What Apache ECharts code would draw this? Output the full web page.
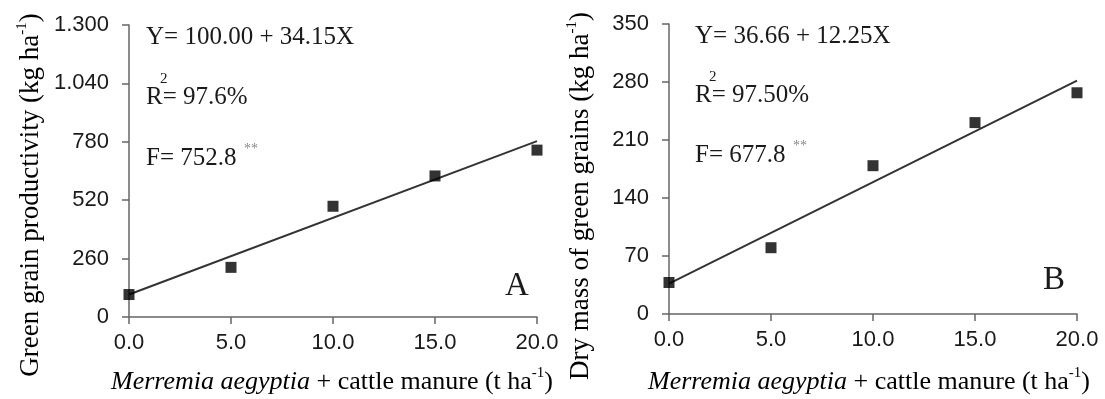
<!DOCTYPE html>
<html>
<head>
<meta charset="utf-8">
<script src="https://cdn.jsdelivr.net/npm/echarts@6/dist/echarts.min.js"></script>
<style>
  html, body { margin: 0; padding: 0; background: #fff; }
  #main { width: 1105px; height: 399px; }
</style>
</head>
<body>
<div id="main"></div>
<script>
// doses of Merremia aegyptia + cattle manure (t/ha)
var doses = [0, 5, 10, 15, 20];
// panel A: green grain productivity (kg/ha)
var grainProd = [100, 221, 493, 628, 743];
// panel B: dry mass of green grains (kg/ha)
var grainDryMass = [38, 80, 179, 231, 267];
// fitted equations [intercept, slope] as printed on the chart
var fitA = [100.00, 34.15];
var fitB = [36.66, 12.25];
var yAxisA = { max: 1300, step: 260 };
var yAxisB = { max: 350, step: 70 };

var serif = 'Liberation Serif';
var sans = 'Liberation Sans';
var ink = '#1a1a1a';
var axisGray = '#666';

function pairs(xs, ys) {
  return xs.map(function (x, i) { return [x, ys[i]]; });
}
function fitLine(coef) {
  var x0 = doses[0], x1 = doses[doses.length - 1];
  return [[x0, coef[0] + coef[1] * x0], [x1, coef[0] + coef[1] * x1]];
}
function thousands(v) {
  return v >= 1000 ? (v / 1000).toFixed(3) : String(v);
}

function xAxisFor(gi) {
  return {
    type: 'value', gridIndex: gi, min: 0, max: 20, interval: 5,
    axisLine: { show: true, lineStyle: { color: axisGray, width: 1.5 } },
    axisTick: { show: true, length: 7, lineStyle: { color: axisGray, width: 1.5 } },
    axisLabel: { fontSize: 22, fontFamily: sans, color: ink, margin: 15,
      formatter: function (v) { return v.toFixed(1); } },
    splitLine: { show: false }
  };
}
function yAxisFor(gi, cfg, fmt) {
  return {
    type: 'value', gridIndex: gi, min: 0, max: cfg.max, interval: cfg.step,
    axisLine: { show: true, lineStyle: { color: axisGray, width: 1.5 } },
    axisTick: { show: true, length: 7, lineStyle: { color: axisGray, width: 1.5 } },
    axisLabel: { fontSize: 22, fontFamily: sans, color: ink, margin: 20, formatter: fmt },
    splitLine: { show: false }
  };
}

var titleRich = {
  t: { fontSize: 26, fontFamily: serif, color: ink, lineHeight: 32 },
  i: { fontSize: 26, fontFamily: serif, fontStyle: 'italic', color: ink, lineHeight: 32 },
  s: { fontSize: 15, fontFamily: serif, color: ink, verticalAlign: 'top', lineHeight: 15 }
};
var yTitleRich = {
  t: { fontSize: 27, fontFamily: serif, color: ink, lineHeight: 32 },
  s: { fontSize: 15, fontFamily: serif, color: ink, verticalAlign: 'top', lineHeight: 15 }
};
function txt(x, y, text, size, extra) {
  var st = { text: text, fontSize: size, fontFamily: serif, fill: ink, align: 'left', verticalAlign: 'middle' };
  for (var k in extra) st[k] = extra[k];
  return { type: 'text', x: x, y: y, style: st, z: 10 };
}
function annotations(left, lines) {
  return [
    txt(left, lines[0], lines[3], 25),
    txt(left, lines[1], 'R= ' + lines[4], 25),
    txt(left + 14, lines[1] - 18, '2', 15),
    txt(left, lines[2], 'F= ' + lines[5], 25),
    txt(left + lines[6], lines[2] - 9, '**', 14, { fill: '#888' })
  ];
}

var myChart = echarts.init(document.getElementById('main'));
var option = {
  backgroundColor: '#fff',
  animation: false,
  grid: [
    { left: 129, top: 25, width: 408, height: 292 },
    { left: 669, top: 24, width: 408, height: 290 }
  ],
  xAxis: [xAxisFor(0), xAxisFor(1)],
  yAxis: [yAxisFor(0, yAxisA, thousands), yAxisFor(1, yAxisB, function (v) { return String(v); })],
  series: [
    { type: 'line', xAxisIndex: 0, yAxisIndex: 0, data: fitLine(fitA), symbol: 'none',
      lineStyle: { color: '#333', width: 2 }, z: 2 },
    { type: 'scatter', xAxisIndex: 0, yAxisIndex: 0, data: pairs(doses, grainProd), symbol: 'rect',
      symbolSize: 11, itemStyle: { color: '#000' }, z: 3 },
    { type: 'line', xAxisIndex: 1, yAxisIndex: 1, data: fitLine(fitB), symbol: 'none',
      lineStyle: { color: '#333', width: 2 }, z: 2 },
    { type: 'scatter', xAxisIndex: 1, yAxisIndex: 1, data: pairs(doses, grainDryMass), symbol: 'rect',
      symbolSize: 11, itemStyle: { color: '#000' }, z: 3 }
  ],
  graphic: [].concat(
    annotations(146, [37, 97, 158, 'Y= 100.00 + 34.15X', '97.6%', '752.8', 98]),
    annotations(695, [36, 95, 155, 'Y= 36.66 + 12.25X', '97.50%', '677.8', 98]),
    [
      txt(505, 286, 'A', 33),
      txt(1043, 280, 'B', 33),
      { type: 'text', x: 332, y: 382, z: 10, style: {
          text: '{i|Merremia aegyptia}{t| + cattle manure (t ha}{s|-1}{t|)}', rich: titleRich,
          align: 'center', verticalAlign: 'middle' } },
      { type: 'text', x: 869, y: 382, z: 10, style: {
          text: '{i|Merremia aegyptia}{t| + cattle manure (t ha}{s|-1}{t|)}', rich: titleRich,
          align: 'center', verticalAlign: 'middle' } },
      { type: 'text', x: 31, y: 195, rotation: Math.PI / 2, z: 10, style: {
          text: '{t|Green grain productivity (kg ha}{s|-1}{t|)}', rich: yTitleRich,
          align: 'center', verticalAlign: 'middle' } },
      { type: 'text', x: 581, y: 196, rotation: Math.PI / 2, z: 10, style: {
          text: '{t|Dry mass of green grains (kg ha}{s|-1}{t|)}', rich: yTitleRich,
          align: 'center', verticalAlign: 'middle' } }
    ]
  )
};
myChart.setOption(option);
</script>
</body>
</html>
